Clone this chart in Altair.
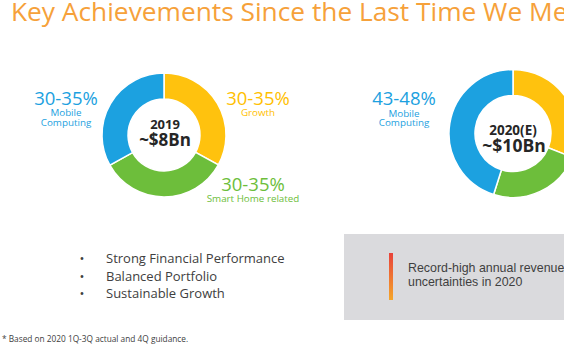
import altair as alt
import pandas as pd

# ---------------- data ----------------
segments = ["Growth", "Smart Home related", "Mobile Computing"]
share_2019 = [33.0, 33.9, 33.1]
share_2020 = [31.1, 23.8, 45.1]
range_2019 = ["30-35%", "30-35%", "30-35%"]
range_2020_mobile = "43-48%"
center_2019 = ["2019", "~$8Bn"]
center_2020 = ["2020(E)", "~$10Bn"]
title_text = "Key Achievements Since the Last Time We Met"
bullets = ["Strong Financial Performance", "Balanced Portfolio", "Sustainable Growth"]
box_lines = ["Record-high annual revenue", "uncertainties in 2020"]
footnote = "* Based on 2020 1Q-3Q actual and 4Q guidance."

seg_colors = ["#FFC20E", "#6DBE3B", "#1CA1E0"]
BLUE, YELLOW, GREEN = "#1CA1E0", "#FFC000", "#6DBE3B"
DARK = "#262626"
GREY_TXT = "#404040"
ORANGE = "#F6A13A"
FONT = "Open Sans"

one = pd.DataFrame({"a": [0]})


def donut(shares, cx, cy, r_out, r_in):
    df = pd.DataFrame({"segment": segments, "share": shares, "order": [0, 1, 2]})
    return alt.Chart(df).mark_arc(
        radius=r_out, radius2=r_in, stroke="white", strokeWidth=1.5
    ).encode(
        theta=alt.Theta("share:Q", stack=True),
        color=alt.Color("segment:N", scale=alt.Scale(domain=segments, range=seg_colors), legend=None),
        order=alt.Order("order:Q"),
        x=alt.value(cx),
        y=alt.value(cy),
    )


def txt(s, x, y, size, color, weight="normal", font=FONT, align="center"):
    return alt.Chart(one).mark_text(
        text=s, font=font, fontSize=size, color=color, fontWeight=weight,
        align=align, baseline="alphabetic"
    ).encode(x=alt.value(x), y=alt.value(y))


layers = []

# grey box + gradient bar
layers.append(alt.Chart(one).mark_rect(color="#DADADD").encode(
    x=alt.value(344), x2=alt.value(570), y=alt.value(234), y2=alt.value(320)))
layers.append(alt.Chart(one).mark_rect(
    color=alt.LinearGradient(
        gradient="linear",
        stops=[alt.GradientStop(color="#E8423A", offset=0),
               alt.GradientStop(color="#F5A62A", offset=1)],
        x1=0, x2=0, y1=0, y2=1)
).encode(x=alt.value(389), x2=alt.value(393), y=alt.value(253), y2=alt.value(300)))

# donuts
layers.append(donut(share_2019, 164, 135, 62, 36))
layers.append(donut(share_2020, 513, 133.5, 64, 38))

# title
layers.append(txt(title_text, 11, 20.5, 26.3, ORANGE, align="left"))

# donut 1 labels
layers.append(txt(range_2019[2], 66, 104.5, 18.5, BLUE))
layers.append(txt("Mobile", 66, 115.5, 9.8, BLUE))
layers.append(txt("Computing", 66, 125.5, 9.8, BLUE))
layers.append(txt(range_2019[0], 258, 104.5, 18.5, YELLOW))
layers.append(txt(segments[0], 258, 116, 9.8, YELLOW))
layers.append(txt(range_2019[1], 253, 190.5, 18.5, GREEN))
layers.append(txt(segments[1], 253, 201.5, 9.8, GREEN))
layers.append(txt(center_2019[0], 165, 128.5, 13, DARK, "bold"))
layers.append(txt(center_2019[1], 165, 146, 17, DARK, "bold"))

# donut 2 labels
layers.append(txt(range_2020_mobile, 404, 104.5, 18.5, BLUE))
layers.append(txt("Mobile", 404, 116.5, 9.8, BLUE))
layers.append(txt("Computing", 404, 126, 9.8, BLUE))
layers.append(txt(center_2020[0], 513, 135, 13.5, DARK, "bold"))
layers.append(txt(center_2020[1], 514, 151.5, 17.5, DARK, "bold"))

# bullets
for i, b in enumerate(bullets):
    yb = 263.3 + i * 17.5
    layers.append(txt("•", 82, yb, 13, GREY_TXT))
    layers.append(txt(b, 106, yb, 13, GREY_TXT, align="left"))

# box text
layers.append(txt(box_lines[0], 408, 271.5, 12.4, "#3F3F3F", font="Liberation Sans", align="left"))
layers.append(txt(box_lines[1], 408, 286, 12.4, "#3F3F3F", font="Liberation Sans", align="left"))

# footnote
layers.append(txt(footnote, 2, 342, 8.3, GREY_TXT, align="left"))

chart = alt.layer(*layers).properties(
    width=564, height=353, padding=0, autosize="none", background="white"
).resolve_scale(theta="independent").configure_view(stroke=None)

chart.save("out.html", embed_options={"renderer": "svg", "actions": False})
